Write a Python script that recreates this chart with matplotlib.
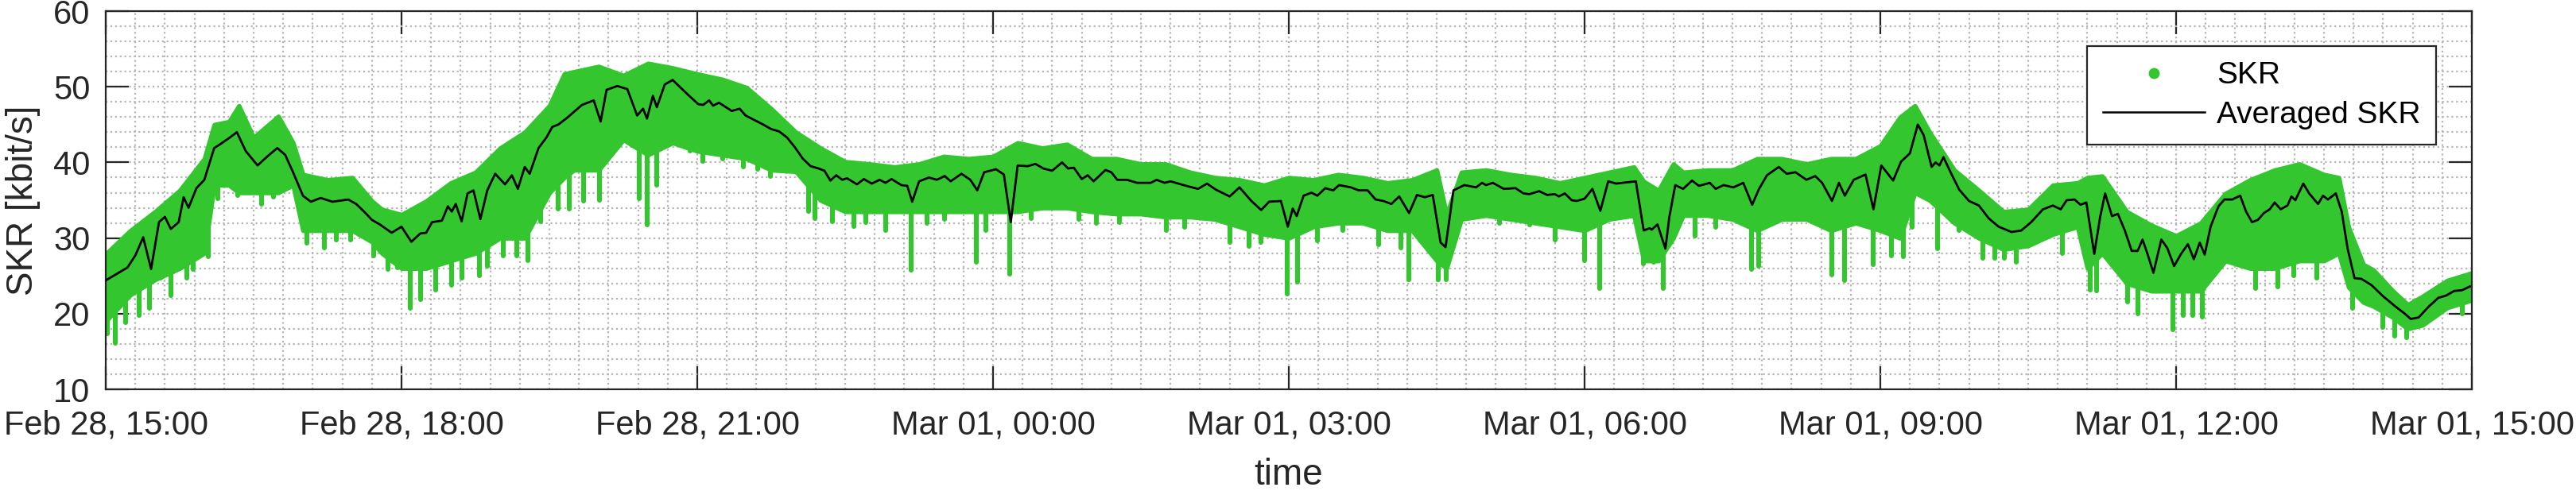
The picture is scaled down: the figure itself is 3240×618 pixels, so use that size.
import datetime as dt

import matplotlib
matplotlib.use("Agg")
import matplotlib.dates as mdates
import matplotlib.pyplot as plt
import numpy as np
from matplotlib.lines import Line2D
from matplotlib.ticker import MultipleLocator

plt.rcParams["font.family"] = ["Liberation Sans", "DejaVu Sans"]

START = dt.datetime(2023, 2, 28, 15, 0)

# averaged SKR, hours after start -> kbit/s
avg_hours = [
    0.0, 0.22, 0.3, 0.38, 0.46, 0.54, 0.6, 0.66, 0.74, 0.79, 0.84, 0.92, 1.0,
    1.1, 1.16, 1.26, 1.33, 1.42, 1.54, 1.64, 1.74, 1.82, 1.9, 2.0, 2.08, 2.18,
    2.3, 2.46, 2.54, 2.62, 2.7, 2.78, 2.9, 3.0, 3.1, 3.19, 3.25, 3.31, 3.41,
    3.47, 3.51, 3.55, 3.61, 3.67, 3.73, 3.8, 3.87, 3.95, 4.05, 4.12, 4.18,
    4.25, 4.3, 4.39, 4.47, 4.53, 4.59, 4.68, 4.83, 4.95, 5.02, 5.08, 5.19,
    5.29, 5.39, 5.45, 5.49, 5.55, 5.59, 5.67, 5.75, 5.83, 5.91, 6.01,
    6.06, 6.12, 6.16, 6.22, 6.35, 6.43, 6.49, 6.55, 6.67, 6.75, 6.83, 6.91,
    6.99, 7.07, 7.15, 7.23, 7.29, 7.35, 7.41, 7.47, 7.52, 7.62, 7.69, 7.77,
    7.85, 7.91, 7.97, 8.07, 8.13, 8.18, 8.25, 8.35, 8.43, 8.51, 8.57, 8.68,
    8.77, 8.84, 8.91, 9.03, 9.11, 9.18, 9.25, 9.35, 9.43, 9.51, 9.6, 9.7,
    9.76, 9.82, 9.9, 9.96, 10.02, 10.14, 10.2, 10.26, 10.36, 10.46, 10.6,
    10.66, 10.74, 10.8, 10.96, 11.08, 11.17, 11.26, 11.4, 11.5, 11.62, 11.72,
    11.8, 11.92, 11.99, 12.04, 12.08, 12.15,
    12.23, 12.29, 12.37, 12.45, 12.51, 12.63, 12.71, 12.8, 12.88, 12.96,
    13.04, 13.12, 13.22, 13.3, 13.38, 13.46, 13.54, 13.59, 13.67, 13.78,
    13.9, 13.96, 14.0, 14.07, 14.18, 14.3, 14.38, 14.44, 14.54, 14.62, 14.7,
    14.74, 14.8, 14.87, 14.92, 15.0, 15.08, 15.16, 15.24, 15.32, 15.52,
    15.6, 15.66, 15.68, 15.74, 15.82, 15.86, 15.92, 16.0, 16.09, 16.16,
    16.27, 16.33, 16.41, 16.51, 16.61, 16.7, 16.77, 16.85, 16.97, 17.05,
    17.14, 17.25, 17.34, 17.41, 17.51, 17.58, 17.64, 17.73, 17.85, 17.93,
    18.01, 18.13, 18.21,
    18.3, 18.38, 18.44, 18.52, 18.56, 18.6, 18.64, 18.72, 18.8, 18.9, 19.0,
    19.1, 19.2, 19.33, 19.43, 19.53, 19.65, 19.75, 19.83, 19.89, 19.97,
    20.03, 20.09, 20.17, 20.23, 20.28, 20.35, 20.41, 20.48, 20.55, 20.61,
    20.66, 20.71, 20.77, 20.85, 20.91, 20.98, 21.05, 21.12, 21.18, 21.24,
    21.29, 21.35, 21.43, 21.49, 21.57, 21.65, 21.71, 21.77, 21.83, 21.89,
    21.95, 22.0, 22.06, 22.13, 22.17, 22.21, 22.29, 22.35, 22.44, 22.49,
    22.54, 22.62, 22.68, 22.74, 22.81, 22.88, 22.98, 23.1, 23.22, 23.32,
    23.38, 23.46, 23.56, 23.66, 23.74, 23.82, 23.9, 23.98,
]
avg_skr = [
    24.4, 26.1, 27.7, 30.1, 25.9, 32.1, 32.8, 31.2, 32.1, 35.4, 34.0, 36.6, 37.7,
    41.9, 42.4, 43.3, 44.0, 41.5, 39.6, 40.8, 41.9, 41.0, 38.7, 35.6, 34.8, 35.3,
    34.8, 35.1, 34.5, 33.5, 32.4, 31.8, 30.7, 31.5, 29.5, 30.6, 30.7, 32.1, 32.3,
    34.2, 33.5, 34.5, 32.2, 35.9, 36.3, 32.5, 36.3, 38.5, 37.1, 38.3, 36.5,
    39.4, 38.5, 41.9, 43.3, 44.7, 45.0, 45.9, 47.6, 48.2, 45.4, 49.6, 50.1,
    49.7, 46.2, 47.1, 45.8, 48.8, 47.3, 50.3, 50.9, 49.9, 48.9, 47.7,
    47.6, 48.2, 47.5, 47.9, 46.8, 47.1, 46.2, 45.8, 45.0, 44.4, 44.1, 43.3,
    42.0, 40.5, 39.5, 39.2, 38.9, 37.6, 38.3, 37.7, 37.9, 37.1, 37.8, 37.2,
    37.7, 37.3, 37.8, 37.0, 36.9, 34.8, 37.5, 38.0, 37.7, 38.2, 37.5, 38.5,
    37.7, 36.3, 38.7, 39.1, 38.4, 32.1, 39.6, 39.5, 39.8, 39.2, 38.9, 40.0,
    39.2, 39.3, 37.8, 38.3, 37.5, 39.0, 38.7, 37.7, 37.7, 37.3, 37.3,
    37.7, 37.3, 37.5, 36.9, 36.5, 37.2, 36.4, 35.5, 36.7, 34.9, 33.7,
    34.8, 34.9, 31.5, 33.9, 32.9, 35.6,
    36.0, 35.6, 36.6, 36.3, 37.0, 36.7, 36.3, 36.3, 35.1, 34.9,
    34.5, 35.5, 33.3, 35.7, 35.4, 35.7, 29.4, 28.8, 36.3, 37.0,
    36.7, 37.3, 37.0, 37.3, 36.5, 36.6, 35.9, 35.8, 36.2, 35.7, 35.8,
    35.5, 35.9, 35.0, 34.9, 35.2, 36.5, 33.6, 37.5, 37.2, 37.5,
    31.0, 31.3, 31.1, 31.8, 28.6, 32.8, 37.0, 36.5, 37.6, 36.9,
    37.3, 36.5, 37.0, 36.7, 37.3, 34.4, 36.5, 38.3, 39.4, 38.5,
    38.7, 37.7, 38.2, 37.3, 34.9, 37.3, 35.6, 37.7, 38.4, 33.8,
    39.6, 37.6, 40.1,
    41.2, 45.0, 43.6, 39.4, 40.0, 39.6, 40.7, 38.5, 36.4, 34.9, 34.3,
    32.6, 31.5, 30.8, 31.0, 32.1, 33.8, 34.3, 33.8, 35.0, 35.1,
    34.4, 34.7, 27.9, 32.8, 35.9, 32.9, 33.2, 31.0, 28.3, 28.3,
    29.8, 27.9, 25.4, 29.8, 28.7, 26.3, 27.9, 29.2, 27.2, 29.4,
    27.8, 31.5, 34.2, 35.1, 35.1, 35.6, 33.5, 32.1, 32.4, 33.3,
    33.8, 34.7, 33.8, 34.3, 35.5, 35.0, 37.2, 35.9, 34.5, 35.6,
    35.1, 35.9, 33.5, 28.6, 24.7, 24.6, 23.8, 22.3, 21.0, 20.0,
    19.3, 19.5, 20.9, 22.1, 22.4, 23.0, 23.1, 23.6,
]

# raw SKR cloud: dense band (top / bottom) ...
band_hours = [
    0.0, 0.25, 0.5, 0.75, 1.0, 1.1, 1.25, 1.35, 1.5, 1.75, 1.9, 2.0, 2.25, 2.5,
    2.7, 2.8, 3.0, 3.25, 3.5, 3.75, 4.0, 4.25, 4.5, 4.65, 4.75, 5.0, 5.25, 5.5,
    5.75, 6.0, 6.25, 6.5, 6.75, 7.0, 7.25, 7.5, 7.75, 8.0, 8.25, 8.5, 8.75,
    9.0, 9.25, 9.5, 9.75, 10.0, 10.25, 10.5, 10.75, 11.0, 11.25, 11.5, 11.75,
    12.0, 12.25, 12.5, 12.75, 13.0, 13.25, 13.5, 13.6, 13.75, 14.0, 14.25,
    14.5, 14.75, 15.0, 15.25, 15.5, 15.6, 15.75, 15.9, 16.0, 16.25, 16.5,
    16.75, 17.0, 17.25, 17.5, 17.75, 18.0, 18.2, 18.35, 18.5, 18.75, 19.0,
    19.25, 19.5, 19.75, 20.0, 20.1, 20.25, 20.5, 20.75, 21.0, 21.25, 21.5,
    21.75, 22.0, 22.25, 22.5, 22.65, 22.75, 22.9, 23.0, 23.2, 23.35, 23.5,
    23.75, 24.0,
]
band_top = [
    27.9, 31.0, 33.5, 36.3, 40.5, 45.0, 45.4, 47.5, 43.3, 46.1, 42.6, 38.4, 37.7, 38.0,
    34.9, 33.8, 33.1, 34.9, 37.3, 38.7, 41.9, 44.0, 47.5, 51.7, 52.0, 52.7, 51.5, 53.1,
    52.5, 51.7, 51.0, 49.9, 47.1, 44.0, 41.9, 40.1, 39.8, 39.4, 39.8, 40.8, 40.5,
    40.8, 42.6, 41.9, 42.4, 40.5, 40.5, 39.8, 39.8, 38.7, 38.0, 37.7, 37.0,
    38.0, 37.7, 38.4, 38.0, 37.3, 37.7, 39.0, 33.1, 38.7, 39.0, 38.4,
    38.0, 37.3, 38.0, 38.7, 39.4, 37.5, 36.3, 39.8, 38.7, 39.0, 39.0,
    40.5, 40.5, 39.8, 40.5, 40.5, 42.2, 46.0, 47.5, 44.0, 39.0, 36.3,
    33.5, 33.8, 37.0, 37.3, 38.0, 38.2, 33.5, 31.7, 30.3, 32.0, 35.9,
    37.7, 39.0, 39.8, 38.4, 38.0, 31.4, 26.5, 25.8, 23.0, 21.2, 22.3,
    24.4, 25.4,
]
band_low = [
    19.0, 22.5, 24.5, 26.0, 28.0, 37.0, 37.0, 36.0, 36.0, 36.0, 37.0, 31.0, 31.0, 31.0,
    29.5, 28.0, 26.0, 26.0, 27.0, 28.0, 30.0, 30.0, 36.0, 38.0, 39.0, 39.0, 43.0, 41.0,
    42.6, 41.5, 41.0, 40.5, 39.0, 38.8, 35.0, 33.5, 33.5, 33.5, 33.5, 33.5, 33.5,
    33.5, 33.5, 34.0, 34.0, 33.5, 33.2, 33.2, 32.8, 32.8, 32.5, 31.5, 30.5,
    30.0, 31.5, 32.0, 32.0, 31.0, 31.0, 27.0, 26.0, 32.5, 33.0, 32.5,
    32.0, 31.5, 31.0, 32.5, 33.0, 27.0, 27.0, 30.0, 33.0, 33.0, 32.5,
    31.0, 32.5, 32.5, 31.0, 32.0, 31.0, 30.0, 36.0, 35.0, 32.0, 30.0,
    28.5, 29.0, 30.5, 31.5, 26.0, 28.0, 24.0, 23.0, 23.0, 23.0, 27.0,
    26.0, 26.0, 27.0, 27.0, 28.0, 23.5, 21.5, 21.0, 19.5, 18.0, 18.5,
    20.8, 21.8,
]

# ... and the deep single drops below it
drop_hours = [
    0.02, 0.1, 0.2, 0.34, 0.44, 0.56, 0.66, 0.82, 0.89, 1.04, 1.14, 1.34, 1.58,
    1.7, 2.04, 2.22, 2.34, 2.48, 2.72, 2.86, 2.96, 3.09, 3.19, 3.35, 3.51, 3.61,
    3.79, 3.87, 4.03, 4.17, 4.28, 4.41, 4.59, 4.7, 4.85, 5.01, 5.41, 5.49, 5.59,
    5.93, 6.06, 6.16, 6.26, 6.47, 6.61, 6.74, 7.13, 7.19, 7.37, 7.59, 7.71,
    7.91, 8.17, 8.33, 8.51, 8.83, 8.93, 9.17, 9.39, 9.87, 10.05, 10.28, 10.76,
    10.94, 11.4, 11.6, 11.72, 11.98, 12.09, 12.29, 12.55, 12.91, 13.14, 13.22,
    13.34, 13.52, 13.6, 14.14, 14.44, 14.7, 15.0, 15.15, 15.6, 15.7, 15.8,
    16.12, 16.33, 16.69, 16.77, 17.51, 17.64, 17.93, 18.11, 18.23, 18.32,
    18.58, 18.68, 18.8, 19.04, 19.16, 19.26, 19.38, 19.85, 20.13, 20.19,
    20.51, 20.61, 20.97, 21.07, 21.17, 21.27, 21.81, 22.03, 22.19, 22.43,
    22.79, 23.1, 23.22, 23.34, 23.9,
]
drop_skr = [
    17.4, 16.1, 18.8, 19.8, 20.7, 24.7, 22.4, 24.7, 25.9, 27.5, 35.2, 35.6, 34.5,
    35.4, 29.3, 28.7, 29.8, 29.8, 27.7, 25.9, 26.1, 20.7, 21.9, 23.1, 23.8, 24.7,
    25.0, 26.3, 27.7, 27.7, 27.0, 32.2, 33.8, 33.8, 34.9, 35.0, 35.2, 31.7, 37.0,
    41.5, 40.1, 41.7, 40.5, 39.4, 39.1, 38.2, 33.5, 32.6, 32.2, 31.5, 32.1,
    31.0, 25.8, 32.0, 32.5, 26.8, 31.0, 25.2, 32.6, 32.5, 32.0, 32.1, 31.0,
    31.4, 29.4, 28.9, 29.4, 22.6, 24.2, 29.6, 31.0, 29.1, 28.7, 24.5,
    29.6, 24.5, 24.5, 32.0, 31.7, 29.8, 27.0, 23.3, 26.6, 26.8, 23.3,
    30.3, 31.4, 25.9, 26.3, 25.1, 24.4, 26.5, 27.7, 27.5, 31.4,
    28.6, 34.2, 31.0, 27.3, 27.3, 27.3, 26.8, 28.0, 23.1, 23.0,
    21.6, 20.0, 17.9, 19.8, 19.8, 19.6, 23.3, 23.5, 25.0, 24.7,
    20.7, 18.2, 17.0, 16.8, 20.0,
]

GREEN = "#33c62f"
FRAME = "#262626"


def to_dates(hours):
    return mdates.date2num(START) + np.asarray(hours, dtype=float) / 24.0


fig = plt.figure(figsize=(16.2, 3.09), dpi=200)
ax = fig.add_axes([0.04105, 0.2071, 0.91852, 0.7702])

band_t = to_dates(band_hours)
ax.fill_between(band_t, band_low, band_top, color=GREEN, lw=2.0,
                edgecolor=GREEN, zorder=2)

drop_t = to_dates(drop_hours)
drop_top = np.interp(drop_hours, band_hours, band_low) + 0.5
ax.vlines(drop_t, drop_skr, drop_top, color=GREEN, lw=2.2,
          capstyle="round", zorder=2)

ax.plot(to_dates(avg_hours), avg_skr, color="black", lw=1.0, zorder=3,
        solid_joinstyle="round")

ax.set_xlim(to_dates([0, 24]))
ax.set_ylim(10, 60)
ax.set_yticks(range(10, 61, 10))
ax.yaxis.set_minor_locator(MultipleLocator(2))
ax.xaxis.set_major_locator(mdates.HourLocator(byhour=range(0, 24, 3)))
ax.xaxis.set_major_formatter(mdates.DateFormatter("%b %d, %H:%M"))
ax.xaxis.set_minor_locator(MultipleLocator(18 / 1440))

ax.set_axisbelow(True)
ax.grid(which="both", ls=":", color="#b5b5b5", lw=0.8)

ax.tick_params(which="major", direction="in", length=10.5, width=0.8,
               color=FRAME, labelsize=15, labelcolor=FRAME, top=True, right=True)
ax.tick_params(axis="x", which="major", pad=9)
ax.tick_params(axis="y", which="major", pad=7)
ax.tick_params(which="minor", length=0, top=True, right=True)
for sp in ax.spines.values():
    sp.set_color(FRAME)
    sp.set_linewidth(0.8)

ax.set_xlabel("time", fontsize=16.5, color=FRAME, labelpad=7.5)
ax.set_ylabel("SKR [kbit/s]", fontsize=16.5, color=FRAME, labelpad=6)

handles = [
    Line2D([], [], ls="none", marker=".", markersize=8, color=GREEN),
    Line2D([], [], color="black", lw=0.9),
]
leg = ax.legend(handles, ["SKR", "Averaged SKR"], loc="upper right",
                bbox_to_anchor=(0.985, 0.908), borderaxespad=0, fontsize=14,
                fancybox=False, framealpha=1, edgecolor=FRAME,
                handlelength=3.3, handletextpad=0.4, labelspacing=0.35,
                borderpad=0.5)
leg.get_frame().set_linewidth(0.8)

fig.savefig("out.png", dpi=200)
